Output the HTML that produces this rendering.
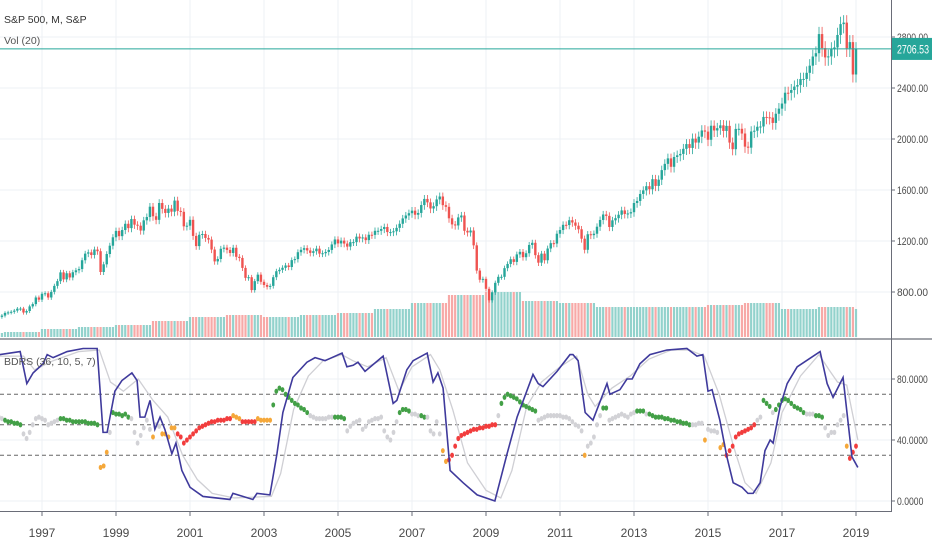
<!DOCTYPE html>
<html><head><meta charset="utf-8">
<style>
html,body{margin:0;padding:0;background:#fff;width:932px;height:550px;overflow:hidden;font-family:"Liberation Sans",sans-serif}
svg{display:block}
</style></head>
<body>
<svg id="chart" width="932" height="550" xmlns="http://www.w3.org/2000/svg">
<rect width="932" height="550" fill="#fff"/>
<g id="grid"></g>
<g id="vol"></g>
<g id="candles"></g>
<g id="ind"></g>
<g id="axes"></g>
</svg>
<script>
// ---------- DATA ----------
const startYear = 1995 + 10/12; // Nov 1995
const closes = [605,615,
636,640,645,654,669,670,639,651,687,705,757,740,
786,790,757,801,848,885,954,899,947,914,955,970,
980,1049,1101,1111,1090,1133,1120,957,1017,1098,1163,1229,
1279,1238,1286,1335,1301,1372,1328,1320,1282,1362,1388,1469,
1394,1366,1498,1452,1420,1454,1430,1517,1436,1429,1315,1320,
1366,1240,1160,1249,1255,1224,1211,1133,1040,1059,1139,1148,
1130,1106,1147,1076,1067,989,911,916,815,885,936,880,
855,841,848,916,963,974,990,1008,996,1050,1058,1112,
1131,1144,1126,1107,1120,1140,1101,1104,1114,1130,1173,1212,
1181,1203,1180,1156,1191,1191,1234,1220,1228,1207,1249,1248,
1280,1280,1294,1310,1270,1270,1276,1303,1335,1377,1400,1418,
1438,1406,1420,1482,1530,1503,1455,1473,1526,1549,1481,1468,
1378,1330,1322,1385,1400,1280,1267,1282,1166,968,896,903,
825,735,797,872,919,919,987,1020,1057,1036,1095,1115,
1073,1104,1169,1186,1089,1030,1101,1049,1141,1183,1180,1257,
1286,1327,1325,1363,1345,1320,1292,1218,1131,1253,1246,1257,
1312,1365,1408,1397,1310,1362,1379,1406,1440,1412,1416,1426,
1498,1514,1569,1597,1630,1606,1685,1632,1681,1756,1805,1848,
1782,1859,1872,1883,1923,1960,1930,2003,1972,2018,2067,2058,
1994,2104,2067,2085,2107,2063,2103,1972,1920,2079,2080,2043,
1940,1932,2059,2065,2096,2098,2173,2170,2168,2126,2198,2238,
2278,2363,2362,2384,2411,2423,2470,2471,2519,2575,2647,2673,
2823,2713,2640,2648,2705,2718,2816,2901,2913,2711,2760,2506,
2706];
const volYears = [1995,1996,1997,1998,1999,2000,2001,2002,2003,2004,2005,2006,2007,2008,2009,2010,2011,2012,2013,2014,2015,2016,2017,2018,2019];
const volByYear = [4,5,8,10,12,16,20,22,20,22,24,28,34,42,45,36,34,30,30,30,32,34,28,30,28];
const priceTicks = [800,1200,1600,2000,2400,2800];
const lastPrice = 2706.53;
const yearTicks = [1997,1999,2001,2003,2005,2007,2009,2011,2013,2015,2017,2019];
const bdrsTicks = [0,40,80];
const levels = [30,50,70];
// BDRS main line knots [year, value]
const blueT = [1995.86,1996.41,1996.59,1996.76,1997.03,1997.14,1997.30,1997.68,1998.11,1998.49,1998.65,1998.76,1998.97,1999.16,1999.43,1999.57,1999.65,1999.78,1999.92,2000.05,2000.19,2000.32,2000.51,2000.62,2000.78,2001.0,2001.35,2002.08,2002.16,2002.70,2002.81,2003.16,2003.35,2003.51,2003.78,2004.16,2004.38,2004.65,2005.11,2005.24,2005.41,2005.54,2005.73,2006.22,2006.49,2006.59,2006.86,2007.03,2007.41,2007.57,2007.70,2007.84,2008.03,2008.38,2008.76,2009.24,2009.57,2009.84,2010.27,2010.41,2010.54,2010.92,2011.27,2011.35,2011.49,2011.68,2011.89,2012.27,2012.35,2012.62,2012.81,2012.95,2013.16,2013.43,2013.89,2014.43,2014.70,2014.86,2015.0,2015.11,2015.32,2015.51,2015.68,2015.92,2016.08,2016.22,2016.41,2016.54,2016.68,2016.76,2016.95,2017.14,2017.41,2018.03,2018.22,2018.38,2018.65,2018.89,2019.05];
const blueV = [96,98,77,84,90,96,94,98,100,100,45,45,72,79,84,79,55,55,66,47,55,47,31,38,20,9,3,1,5,1,5,4,31,58,81,91,94,92,97,88,89,91,85,95,64,66,86,92,97,78,84,74,20,12,4,0,31,55,83,77,75,85,96,96,92,58,53,77,70,73,80,80,90,96,99,100,95,96,72,73,53,29,12,9,5,5,12,33,40,38,62,77,88,98,77,68,81,29,22];
// signal line knots
const grayT = [1995.86,1996.5,1996.8,1997.3,1998.0,1998.55,1998.85,1999.2,1999.6,2000.0,2000.4,2000.8,2001.2,2001.6,2002.2,2003.2,2003.45,2003.8,2004.2,2004.6,2005.1,2005.4,2005.8,2006.3,2006.65,2007.0,2007.5,2007.75,2008.1,2008.5,2009.0,2009.4,2009.7,2010.1,2010.5,2011.0,2011.45,2011.75,2011.95,2012.4,2012.9,2013.4,2014.0,2014.5,2014.9,2015.3,2015.7,2016.0,2016.3,2016.7,2017.0,2017.5,2018.0,2018.3,2018.5,2018.75,2019.05];
const grayV = [95,95,86,92,98,99,78,72,80,66,55,30,14,5,2,3,18,60,82,92,96,92,88,94,72,88,96,86,60,25,7,2,20,62,78,88,95,70,62,74,82,93,99,99,95,70,35,12,5,25,58,82,96,85,78,76,40];
// monthly dot values (from Nov 1995)
const dotVals = [55,54,53,52,52,51,51,50,44,41,45,50,54,55,54,53,50,51,52,53,
54,54,53,53,52,52,52,52,52,51,51,51,50,22,23,32,45,58,57,57,56,57,55,54,
45,38,43,48,53,47,42,50,49,44,44,42,48,48,44,42,38,40,42,44,46,48,49,50,51,52,52,53,53,53,54,54,
56,55,54,52,52,52,52,52,54,53,53,53,53,63,72,74,73,70,68,66,64,63,61,60,58,
56,55,54,54,54,54,55,55,55,55,55,54,46,49,51,52,53,47,49,52,53,54,54,55,46,42,40,45,52,
58,60,60,59,57,57,56,56,55,55,46,44,52,44,33,26,27,30,36,41,43,44,45,46,47,47,48,48,49,49,50,50,
56,64,68,70,69,68,67,65,63,62,61,60,59,53,54,55,56,56,56,56,56,55,55,54,52,50,49,46,30,36,38,42,50,56,
61,61,53,54,55,56,57,56,55,57,58,59,59,59,57,57,56,55,55,55,54,54,53,53,52,52,51,51,50,50,50,51,51,
40,47,46,46,45,35,37,30,33,36,42,44,45,46,47,48,50,53,55,66,64,62,58,60,63,66,67,66,64,62,61,60,58,
57,57,57,56,56,55,48,43,45,45,50,53,56,36,28,32,36];
// dot colour runs: g=green r=red o=orange n=neutral gray, [code, count]
const dotColRuns = [['n',2],['g',6],['n',12],['g',13],['o',3],['n',1],['g',6],['n',7],['o',1],['n',2],['o',5],['r',18],['o',3],['r',5],['o',5],['g',12],['n',8],['g',4],['n',17],['g',4],['n',3],['g',2],['n',5],['o',2],['r',16],['n',1],['g',12],['n',15],['o',1],['n',5],['g',2],['n',9],['g',3],['n',1],['g',14],['n',4],['o',1],['n',4],['o',2],['r',10],['n',2],['g',3],['n',1],['g',10],['n',3],['g',3],['n',7],['o',1],['r',3]];

// ---------- SCALES ----------
const X = yr => 42 + (yr - 1997) * 37;
const monthYear = i => startYear + i / 12;
const YP = p => 292 - (p - 800) * 0.1275;
const YB = v => 501 - v * 1.525;
const VOLBASE = 337;
const NS = "http://www.w3.org/2000/svg";
function mk(parent, tag, attrs) {
  const el = document.createElementNS(NS, tag);
  for (const k in attrs) el.setAttribute(k, attrs[k]);
  parent.appendChild(el);
  return el;
}
const dotCols = [];
dotColRuns.forEach(r => { for (let k = 0; k < r[1]; k++) dotCols.push(r[0]); });
const grid = document.getElementById('grid');
const volG = document.getElementById('vol');
const candG = document.getElementById('candles');
const indG = document.getElementById('ind');
const axG = document.getElementById('axes');

// grid
yearTicks.forEach(y => {
  const l = mk(grid, 'line', {x1: X(y), x2: X(y), y1: 0, y2: 510, stroke: '#eef0f4', 'stroke-width': 1});
  
  
});
priceTicks.forEach(p => {
  const l = mk(grid, 'line', {x1: 0, x2: 891, y1: YP(p), y2: YP(p), stroke: '#eef0f4', 'stroke-width': 1});
  
  
});
bdrsTicks.forEach(v => {
  const l = mk(grid, 'line', {x1: 0, x2: 891, y1: YB(v), y2: YB(v), stroke: '#eef0f4', 'stroke-width': 1});
  
  
});

// candles + volume
closes.forEach((c, i) => {
  const o = i === 0 ? c - 8 : closes[i - 1];
  const up = c >= o;
  const x = X(monthYear(i));
  const hi = Math.max(o, c) * 1.02, lo = Math.min(o, c) * 0.975;
  const col = up ? '#26a69a' : '#ef5350';
  const yr = Math.floor(monthYear(i) + 1e-6);
  const vi = volYears.indexOf(yr);
  const vh = volByYear[vi < 0 ? 0 : vi];
  const vb = mk(volG, 'rect', {x: x - 1.1, y: VOLBASE - vh, width: 2.2, height: vh, fill: up ? '#92d2cc' : '#f7a9a7'});
  
  
  const w = mk(candG, 'line', {x1: x, x2: x, y1: YP(hi), y2: YP(lo), stroke: col, 'stroke-width': 0.8});
  
  
  const top = YP(Math.max(o, c)), bot = YP(Math.min(o, c));
  const b = mk(candG, 'rect', {x: x - 1.2, y: top, width: 2.4, height: Math.max(1, bot - top), fill: col});
  
  
});

// last price line
const lp = mk(candG, 'line', {x1: 0, x2: 891, y1: YP(lastPrice), y2: YP(lastPrice), stroke: '#26a69a', 'stroke-width': 1});



// dashed levels
levels.forEach(v => {
  const l = mk(indG, 'line', {x1: 0, x2: 891, y1: YB(v), y2: YB(v), stroke: '#666', 'stroke-width': 1, 'stroke-dasharray': '4 3'});
  
  
});

// signal line
const gp = mk(indG, 'polyline', {points: grayT.map((t, i) => X(t) + ',' + YB(grayV[i])).join(' '), fill: 'none', stroke: '#cfcfd4', 'stroke-width': 1.3});



// dots
const dotColor = {g: '#43a047', r: '#f23d3d', o: '#f5a83a', n: '#d2d2d6'};
dotVals.forEach((v, i) => {
  const d = mk(indG, 'ellipse', {cx: X(monthYear(i)), cy: YB(v), rx: 1.9, ry: 2.6, fill: dotColor[dotCols[i]] || '#d2d2d6'});
  
  
});

const bp = mk(indG, 'polyline', {points: blueT.map((t, i) => X(t) + ',' + YB(blueV[i])).join(' '), fill: 'none', stroke: '#3f3a9c', 'stroke-width': 1.6});



// axes
function txt(parent, x, y, s, attrs) {
  const t = mk(parent, 'text', Object.assign({x: x, y: y, 'font-size': 11, fill: '#4a4a4a', 'font-family': '"Liberation Sans", sans-serif'}, attrs || {}));
  t.textContent = s;
  return t;
}
const sep = mk(axG, 'line', {x1: 0, x2: 932, y1: 339, y2: 339, stroke: '#6a6d78', 'stroke-width': 1.2});


const ra = mk(axG, 'line', {x1: 891.5, x2: 891.5, y1: 0, y2: 512, stroke: '#6a6d78', 'stroke-width': 1});


const ba = mk(axG, 'line', {x1: 0, x2: 892, y1: 511.5, y2: 511.5, stroke: '#6a6d78', 'stroke-width': 1});



priceTicks.forEach(p => {
  const tk = mk(axG, 'line', {x1: 892, x2: 895, y1: YP(p), y2: YP(p), stroke: '#6a6d78'});
  
  
  const t = txt(axG, 897, YP(p) + 4, p.toFixed(2), {'font-size': 11, textLength: 31, lengthAdjust: 'spacingAndGlyphs'});
  
  
});
bdrsTicks.forEach(v => {
  const tk = mk(axG, 'line', {x1: 892, x2: 895, y1: YB(v), y2: YB(v), stroke: '#6a6d78'});
  
  
  const s = v.toFixed(4);
  const t = txt(axG, 897, YB(v) + 4, s, {'font-size': 11, textLength: s.length * 4.4, lengthAdjust: 'spacingAndGlyphs'});
  
  
});
yearTicks.forEach(y => {
  const tk = mk(axG, 'line', {x1: X(y), x2: X(y), y1: 512, y2: 516, stroke: '#6a6d78'});
  
  
  const t = txt(axG, X(y), 537, String(y), {'font-size': 12, 'text-anchor': 'middle'});
  
  
});

const badge = mk(axG, 'rect', {x: 892, y: YP(lastPrice) - 11, width: 40, height: 22, fill: '#26a69a'});


const bt = txt(axG, 897, YP(lastPrice) + 4.5, lastPrice.toFixed(2), {fill: '#fff', 'font-size': 11.5, textLength: 32, lengthAdjust: 'spacingAndGlyphs'});



const t1 = txt(axG, 4, 23, 'S&P 500, M, S&P', {'font-size': 10.5, fill: '#333'});


const t2 = txt(axG, 4, 44, 'Vol (20)', {'font-size': 10.5, fill: '#555'});


const t3 = txt(axG, 4, 365, 'BDRS (36, 10, 5, 7)', {'font-size': 10.5, fill: '#555'});


</script>
</body></html>
